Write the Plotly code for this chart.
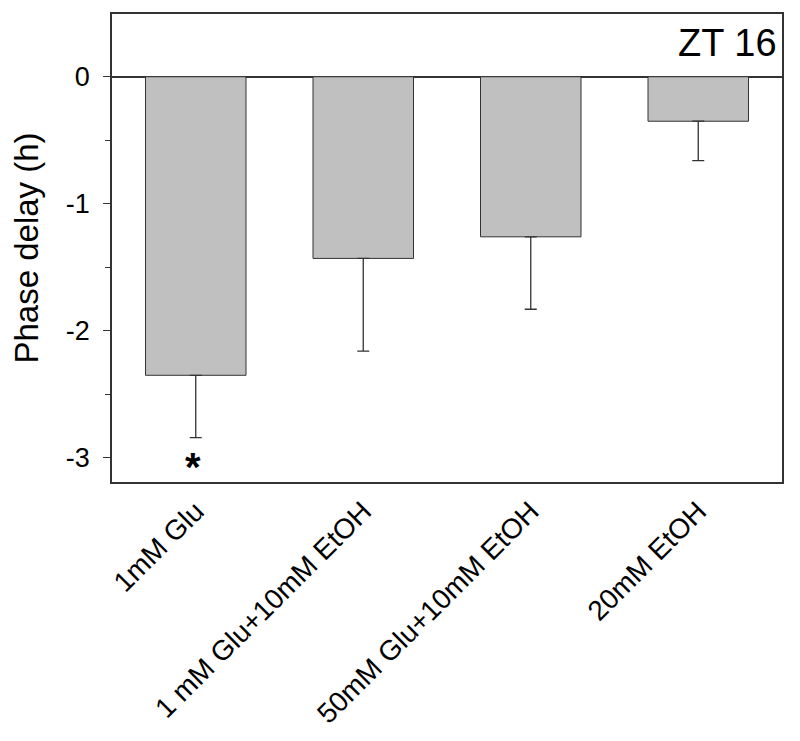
import plotly.graph_objects as go

categories = ["1mM Glu", "1 mM Glu+10mM EtOH", "50mM Glu+10mM EtOH", "20mM EtOH"]
phase_delay = [-2.35, -1.43, -1.26, -0.35]
sem = [0.49, 0.73, 0.57, 0.31]
y_ticks = [-3, -2, -1, 0]
y_tick_labels = ["-3", "-2", "-1", "0"]

FONT = "Arial, Liberation Sans, sans-serif"
x_pos = list(range(len(categories)))

fig = go.Figure()
fig.add_trace(go.Bar(
    x=x_pos, y=phase_delay, width=0.6,
    marker=dict(color="#c0c0c0", line=dict(color="#333333", width=1)),
    error_y=dict(type="data", symmetric=False, array=[0]*len(sem), arrayminus=sem,
                 color="#333333", thickness=1.3, width=6),
    showlegend=False,
))

fig.add_annotation(x=0, y=-3.0, text="<b>*</b>", showarrow=False,
                   font=dict(family=FONT, size=40, color="black"), yanchor="middle",
                   yshift=-9, xshift=-3)
fig.add_annotation(x=1, xref="paper", y=0.265, text="ZT 16", showarrow=False,
                   xanchor="right", yanchor="middle", xshift=-3,
                   font=dict(family=FONT, size=38, color="black"))

fig.update_layout(
    width=784, height=725,
    margin=dict(l=104, r=10, t=6, b=251),
    paper_bgcolor="white", plot_bgcolor="white",
    font=dict(family=FONT, color="black"),
    xaxis=dict(range=[-0.5, 3.5], tickvals=x_pos, ticktext=categories, tickangle=-45,
               tickfont=dict(size=28), showline=True, mirror=True, linecolor="#333333",
               linewidth=1.5, ticks="", showgrid=False, zeroline=False, automargin=False),
    yaxis=dict(range=[-3.19, 0.494], tickvals=y_ticks, ticktext=y_tick_labels,
               ticks="outside", ticklen=7, ticklabelstandoff=8,
               tickcolor="#333333", tickwidth=1.2,
               tickfont=dict(size=27), showline=True, mirror=True, linecolor="#333333",
               linewidth=1.5, showgrid=False, zeroline=True, zerolinecolor="#333333",
               zerolinewidth=1.5, automargin=False,
               minor=dict(tickvals=[-2.5, -1.5, -0.5], ticks="outside", ticklen=5,
                          tickcolor="#333333", tickwidth=1.2),
               title=dict(text="Phase delay (h)", font=dict(size=33), standoff=18)),
)

fig.write_html("out.html")
